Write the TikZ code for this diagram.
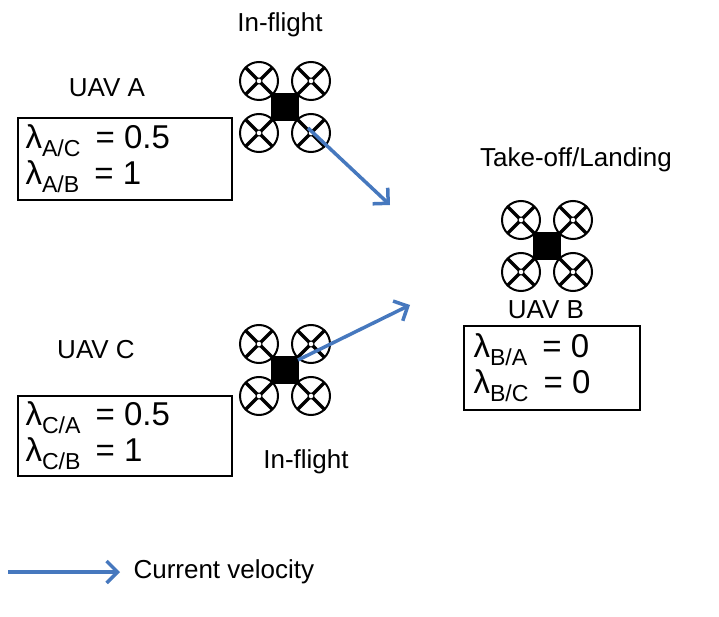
\documentclass[tikz,border=0pt]{standalone}
\usepackage{fontspec}
\setmainfont{Liberation Sans}
\usetikzlibrary{arrows.meta}
\begin{document}
\begin{tikzpicture}[x=1pt,y=-1pt,
  lbl/.style={font=\fontsize{26}{28}\selectfont},
  lam/.style={font=\fontsize{33}{38}\selectfont,align=left},
  box/.style={draw,line width=1.2pt,inner sep=0pt},
  vel/.style={draw={rgb,255:red,70;green,120;blue,190},line width=3.5pt,-{Straight Barb[length=11pt,width=22pt,line width=3.5pt]}},
  drone/.pic={
    \fill (-14,-14) rectangle (14,14);
    \foreach \sx/\sy in {-1/-1,1/-1,-1/1,1/1}{
      \draw[line width=2pt] (\sx*26,\sy*26) circle (19);
      \draw[line width=3.5pt] (0,0) -- (\sx*40,\sy*40);
      \draw[line width=3.5pt] (\sx*26-\sx*13,\sy*26+\sy*13) -- (\sx*26+\sx*13,\sy*26-\sy*13);
      \filldraw[fill=white,line width=1pt] (\sx*26,\sy*26) circle (3);
    }
  }]
\useasboundingbox (0,0) rectangle (719,617);
\pic at (285,107) {drone};
\pic at (547,246) {drone};
\pic at (285,370) {drone};
\node[lbl] (t1) at (280,25) {In-flight};
\node[lbl] (ua) at (107,88) {UAV A};
\node[lbl] (tl) at (576,160) {Take-off/Landing};
\node[lbl] (ub) at (546,310) {UAV B};
\node[lbl] (uc) at (96,350) {UAV C};
\node[lbl] (t2) at (306,462) {In-flight};
\node[box,minimum width=214pt,minimum height=82pt] (ba) at (125,159) {};
\node[lam,anchor=west] at (22,159) {λ\textsubscript{A/C}\, = 0.5\\[-2pt]λ\textsubscript{A/B}\, = 1};
\node[box,minimum width=214pt,minimum height=80pt] (bc) at (125,436) {};
\node[lam,anchor=west] at (22,436) {λ\textsubscript{C/A}\, = 0.5\\[-2pt]λ\textsubscript{C/B}\, = 1};
\node[box,minimum width=176pt,minimum height=84pt] (bb) at (552,368) {};
\node[lam,anchor=west] at (470,368) {λ\textsubscript{B/A}\, = 0\\[-2pt]λ\textsubscript{B/C}\, = 0};
\coordinate (a0) at (308,128); \coordinate (a1) at (390,205);
\coordinate (c0) at (298,360); \coordinate (c1) at (410,305);
\coordinate (l0) at (8,572); \coordinate (l1) at (120,572);
\draw[vel] (a0) -- (a1);
\draw[vel] (c0) -- (c1);
\draw[vel] (l0) -- (l1);
\node[lbl,anchor=west] (cv) at (130,572) {Current velocity};
\end{tikzpicture}
\end{document}
